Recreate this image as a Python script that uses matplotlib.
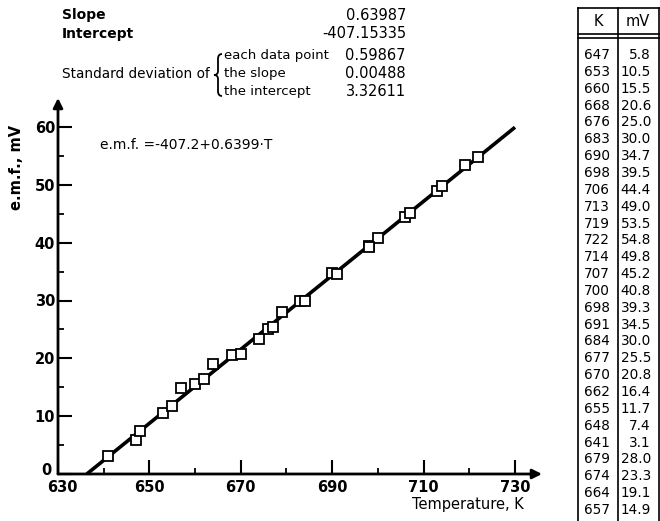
import numpy as np
import matplotlib
matplotlib.use("Agg")
import matplotlib.pyplot as plt
import matplotlib.transforms as mtransforms
from matplotlib.lines import Line2D
from matplotlib.path import Path
from matplotlib.patches import PathPatch

temp_k = [647, 653, 660, 668, 676, 683, 690, 698, 706, 713, 719, 722, 714, 707,
          700, 698, 691, 684, 677, 670, 662, 655, 648, 641, 679, 674, 664, 657]
emf_mv = [5.8, 10.5, 15.5, 20.6, 25.0, 30.0, 34.7, 39.5, 44.4, 49.0, 53.5, 54.8, 49.8, 45.2,
          40.8, 39.3, 34.5, 30.0, 25.5, 20.8, 16.4, 11.7, 7.4, 3.1, 28.0, 23.3, 19.1, 14.9]

slope = 0.63987
intercept = -407.15335
sd_labels = ["each data point", "the slope", "the intercept"]
sd_values = ["0.59867", "0.00488", "3.32611"]

x_ticks = [630, 650, 670, 690, 710, 730]
y_ticks = [0, 10, 20, 30, 40, 50, 60]

W, H = 660, 521
plt.rcParams['font.family'] = ['DejaVu Sans']

fig = plt.figure(figsize=(W / 100, H / 100), dpi=100)


def fx(x):
    return x / W


def fy(y):
    return 1 - y / H


# axes placed in pixels: 630 -> 58px, 730 -> 515px ; 0 -> 474px, 60 -> 127px
x0, x1 = 58, 542
y0, y1 = 474, 98
kx = (515 - 58) / 100.0
ky = (474 - 127) / 60.0
ax = fig.add_axes([fx(x0), fy(y0), (x1 - x0) / W, (y0 - y1) / H])
ax.set_xlim(630, 630 + (x1 - x0) / kx)
ax.set_ylim(0, (y0 - y1) / ky)
ax.patch.set_alpha(0)

for s in ax.spines.values():
    s.set_visible(False)

# axis arrows
ax.annotate("", xy=(1, 0), xytext=(0, 0), xycoords="axes fraction",
            arrowprops=dict(arrowstyle="-|>", lw=2, color="black", mutation_scale=14,
                            shrinkA=0, shrinkB=0))
ax.annotate("", xy=(0, 1), xytext=(0, 0), xycoords="axes fraction",
            arrowprops=dict(arrowstyle="-|>", lw=2, color="black", mutation_scale=14,
                            shrinkA=0, shrinkB=0))

ax.set_xticks(x_ticks)
ax.set_xticks([640, 660, 680, 700, 720], minor=True)
ax.set_yticks(y_ticks)
ax.set_yticks([5, 15, 25, 35, 45, 55], minor=True)
ax.tick_params(which="major", direction="in", length=10, width=1.5, labelsize=10.5, pad=4)
ax.tick_params(which="minor", direction="in", length=4, width=1.3)
ax.tick_params(axis="y", which="major", pad=2)
for lab in ax.get_xticklabels() + ax.get_yticklabels():
    lab.set_fontweight("bold")

# nudge the "0" and "630" labels apart, as in the original
zero_lab = ax.get_yticklabels()[0]
zero_lab.set_transform(zero_lab.get_transform() +
                       mtransforms.ScaledTranslation(-4 / 100, 5 / 100, fig.dpi_scale_trans))
first_x = ax.get_xticklabels()[0]
first_x.set_transform(first_x.get_transform() +
                      mtransforms.ScaledTranslation(4 / 100, 0, fig.dpi_scale_trans))

# fitted line and data points
t0 = -intercept / slope
tline = np.array([t0, 730])
ax.plot(tline, intercept + slope * tline, color="black", lw=2.6, solid_capstyle="butt")
ax.plot(temp_k, emf_mv, linestyle="none", marker="s", markersize=6.5,
        markerfacecolor="white", markeredgecolor="black", markeredgewidth=1.3)

fig.text(fx(100), fy(145), "e.m.f. =-407.2+0.6399·T", fontsize=10, va="center", ha="left")

fig.text(fx(17), fy(167), "e.m.f., mV", rotation=90, fontsize=10.5,
         ha="center", va="center", fontweight="bold")
fig.text(fx(524), fy(505), "Temperature, K", fontsize=10.5, ha="right", va="center")

# statistics block on top
fig.text(fx(62), fy(15), "Slope", fontsize=10, fontweight="bold", va="center")
fig.text(fx(62), fy(34), "Intercept", fontsize=10, fontweight="bold", va="center")
fig.text(fx(406), fy(15), "{:.5f}".format(slope), fontsize=10.5, ha="right", va="center")
fig.text(fx(406), fy(34), "{:.5f}".format(intercept), fontsize=10.5, ha="right", va="center")
fig.text(fx(62), fy(74), "Standard deviation of", fontsize=9.8, va="center")

# curly brace drawn as a path
bx, bt, bm, bb = 218, 54, 75, 96
verts = [(bx + 4, bt), (bx, bt), (bx, bt + 5),
         (bx, bm - 4),
         (bx, bm), (bx - 4, bm),
         (bx, bm), (bx, bm + 4),
         (bx, bb - 5),
         (bx, bb), (bx + 4, bb)]
codes = [Path.MOVETO, Path.CURVE3, Path.CURVE3, Path.LINETO,
         Path.CURVE3, Path.CURVE3, Path.CURVE3, Path.CURVE3,
         Path.LINETO, Path.CURVE3, Path.CURVE3]
verts_fig = [(fx(a), fy(b)) for a, b in verts]
fig.add_artist(PathPatch(Path(verts_fig, codes), transform=fig.transFigure,
                         facecolor="none", edgecolor="black", lw=1.3))

for i, (lab, val) in enumerate(zip(sd_labels, sd_values)):
    yy = 56 + 18 * i
    fig.text(fx(224), fy(yy), lab, fontsize=9.5, va="center")
    fig.text(fx(406), fy(yy), val, fontsize=10.5, ha="right", va="center")

# table on the right
tl, tm, tr = 578, 618, 659
ttop = 8
for xx in (tl, tm, tr):
    fig.add_artist(Line2D([fx(xx), fx(xx)], [fy(ttop), fy(521)], color="black", lw=1.2))
fig.add_artist(Line2D([fx(tl), fx(tr)], [fy(ttop), fy(ttop)], color="black", lw=1.2))
fig.add_artist(Line2D([fx(tl), fx(tr)], [fy(34), fy(34)], color="black", lw=1.2))
fig.add_artist(Line2D([fx(tl), fx(tr)], [fy(37.5), fy(37.5)], color="black", lw=1.2))
fig.text(fx(598), fy(21), "K", fontsize=10.5, ha="center", va="center")
fig.text(fx(638), fy(21), "mV", fontsize=10.5, ha="center", va="center")
row_step = (510 - 55) / (len(temp_k) - 1)
for i, (k, v) in enumerate(zip(temp_k, emf_mv)):
    yy = 55 + i * row_step
    fig.text(fx(597), fy(yy), str(k), fontsize=9.8, ha="center", va="center")
    fig.text(fx(651), fy(yy), "{:.1f}".format(v), fontsize=9.8, ha="right", va="center")

fig.savefig("out.png", dpi=100)
